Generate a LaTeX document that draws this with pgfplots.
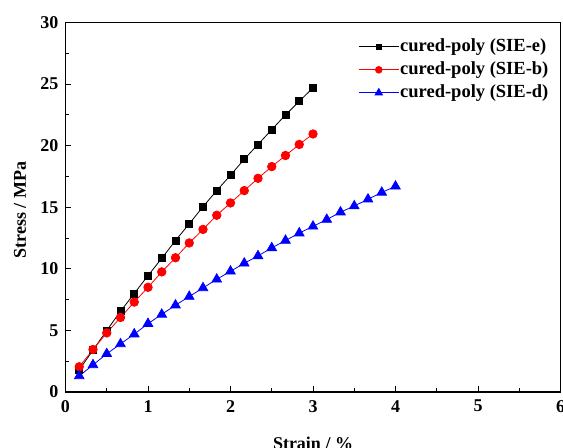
\documentclass[border=0pt]{standalone}
\usepackage{pgfplots}
\pgfplotsset{compat=1.18}
\usepackage{fontspec}
\setmainfont{Liberation Serif}
\begin{document}
\fontsize{18}{21.6}\selectfont\bfseries
\begin{tikzpicture}
\begin{axis}[
  scale only axis,
  width=495pt, height=369.5pt,
  xmin=0, xmax=6, ymin=0, ymax=30,
  xtick={0,1,...,6}, ytick={0,5,...,30},
  minor xtick={0.5,1.5,...,5.5}, minor ytick={2.5,7.5,...,27.5},
  xtick pos=bottom, ytick pos=left,
  tick align=inside,
  major tick length=6pt, minor tick length=3.7pt,
  every tick/.style={black, line width=0.9pt},
  axis line style={line width=1.2pt},
  /pgf/number format/assume math mode=true,
  ticklabel style={font=\fontsize{18}{21.6}\selectfont\bfseries},
  xticklabel style={yshift=-2pt},
  yticklabel style={xshift=-1pt},
  xlabel={Strain / \%},
  ylabel={Stress / MPa},
  label style={font=\fontsize{18}{21.6}\selectfont\bfseries},
  xlabel style={at={(axis description cs:0.5,0)}, anchor=base, yshift=-57.5pt},
  ylabel style={at={(axis description cs:0,0.5)}, anchor=base, yshift=39.5pt, xshift=-3pt},
  legend style={draw=none, fill=none, at={(rel axis cs:0.984,0.964)}, anchor=north east,
    font=\fontsize{18.5}{22}\selectfont\bfseries, row sep=5.5pt,
    nodes={inner sep=1pt}},
  legend cell align=left,
  legend image code/.code={\draw[mark repeat=2,mark phase=2, every mark/.append style={scale=0.78}] plot coordinates {(0pt,0pt)(20pt,0pt)(40pt,0pt)};},
]
\addplot[black, line width=0.8pt, mark=square*, mark size=3.5pt, mark options={solid}] coordinates {
(0.1667,1.8)(0.3333,3.4)(0.5,5.0)(0.6667,6.55)(0.8333,8.0)(1.0,9.45)(1.1667,10.85)(1.3333,12.3)(1.5,13.65)(1.6667,15.05)(1.8333,16.35)(2.0,17.6)(2.1667,18.9)(2.3333,20.1)(2.5,21.3)(2.6667,22.5)(2.8333,23.6)(3.0,24.7)};
\addlegendentry{cured-poly (SIE-e)}
\addplot[red, line width=0.8pt, mark=*, mark size=4.25pt, mark options={solid}] coordinates {
(0.1667,2.05)(0.3333,3.45)(0.5,4.8)(0.6667,6.05)(0.8333,7.3)(1.0,8.5)(1.1667,9.75)(1.3333,10.9)(1.5,12.1)(1.6667,13.2)(1.8333,14.35)(2.0,15.35)(2.1667,16.35)(2.3333,17.35)(2.5,18.3)(2.6667,19.2)(2.8333,20.1)(3.0,20.95)};
\addlegendentry{cured-poly (SIE-b)}
\addplot[blue, line width=0.8pt, mark=triangle*, mark size=5.5pt, mark options={solid}] coordinates {
(0.1667,1.3)(0.3333,2.2)(0.5,3.1)(0.6667,3.9)(0.8333,4.7)(1.0,5.55)(1.1667,6.3)(1.3333,7.05)(1.5,7.75)(1.6667,8.45)(1.8333,9.15)(2.0,9.8)(2.1667,10.45)(2.3333,11.05)(2.5,11.7)(2.6667,12.3)(2.8333,12.9)(3.0,13.45)(3.1667,14.0)(3.3333,14.6)(3.5,15.1)(3.6667,15.65)(3.8333,16.2)(4.0,16.7)};
\addlegendentry{cured-poly (SIE-d)}
\coordinate (ll) at (rel axis cs:0,0);
\coordinate (ur) at (rel axis cs:1,1);
\end{axis}
\pgfresetboundingbox
\path[use as bounding box] ([shift={(-65.5pt,-56pt)}]ll) rectangle ([shift={(2.5pt,22.5pt)}]ur);
\end{tikzpicture}
\end{document}
